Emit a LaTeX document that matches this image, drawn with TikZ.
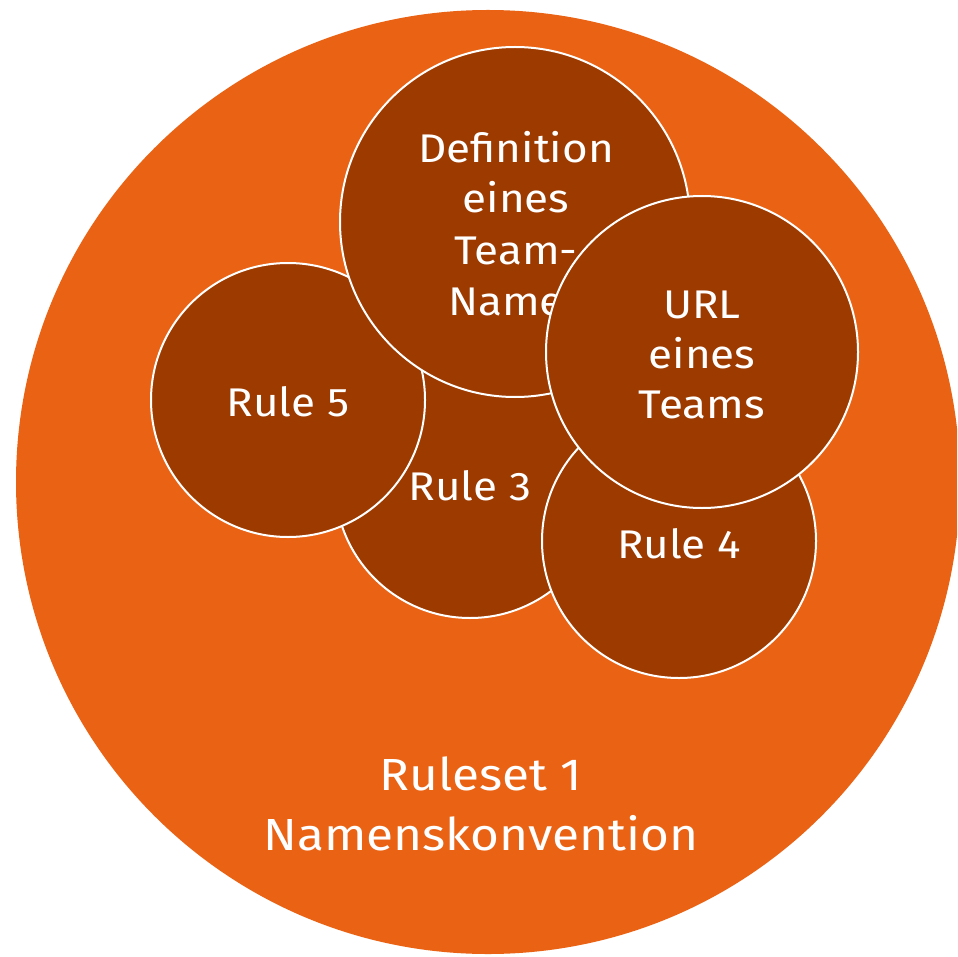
\documentclass[tikz,border=0pt]{standalone}
\usepackage{fontspec}
\setmainfont[FakeStretch=1.1]{Fira Sans}
\definecolor{orangebg}{RGB}{234,99,20}
\definecolor{brownbub}{RGB}{157,58,0}
\tikzset{
  bub/.style={circle, fill=brownbub, draw=white, line width=2pt, inner sep=0pt},
  txt/.style={text=white, font=\fontsize{40}{48}\selectfont, inner sep=0pt, anchor=base},
  bigtxt/.style={text=white, font=\fontsize{45}{52}\selectfont, inner sep=0pt, anchor=base}
}
\begin{document}
\begin{tikzpicture}[x=1pt,y=-1pt]
\useasboundingbox (0,0) rectangle (957,957);
\clip (0,0) rectangle (957,957);
\fill[white] (0,0) rectangle (957,957);
\node[circle, fill=orangebg, minimum size=944pt, inner sep=0pt] (ruleset) at (488,482) {};
\node[bub, minimum size=270pt] (r3) at (470,483) {};
\node[txt] (t3) at (470,500) {Rule 3};
\node[bub, minimum size=274pt] (r5) at (288,400) {};
\node[txt] (t5) at (288,416) {Rule 5};
\node[bub, minimum size=350pt] (def) at (515,222) {};
\node[txt] (d1) at (516,163) {Definition};
\node[txt] (d2) at (516,213) {eines};
\node[txt] (d3) at (516,265) {Team-};
\node[txt] (d4) at (506,315) {Name};
\node[bub, minimum size=274pt] (r4) at (679,541) {};
\node[txt] (t4) at (679,558) {Rule 4};
\node[bub, minimum size=312pt] (url) at (702,352) {};
\node[txt] (u1) at (702,318) {URL};
\node[txt] (u2) at (702,368) {eines};
\node[txt] (u3) at (702,418) {Teams};
\node[bigtxt] (b1) at (481,790) {Ruleset 1};
\node[bigtxt] (b2) at (481,850) {Namenskonvention};
\end{tikzpicture}
\end{document}
